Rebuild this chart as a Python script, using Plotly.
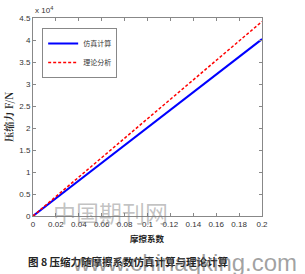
import plotly.graph_objects as go

mu = [0.0, 0.2]
sim_force = [0.0, 4.02]      # ×10^4 N
theory_force = [0.0, 4.42]   # ×10^4 N

x_ticks = [0, 0.02, 0.04, 0.06, 0.08, 0.1, 0.12, 0.14, 0.16, 0.18, 0.2]
x_labels = ["0", "0.02", "0.04", "0.06", "0.08", "0.1", "0.12", "0.14", "0.16", "0.18", "0.2"]
y_ticks = [0, 0.5, 1, 1.5, 2, 2.5, 3, 3.5, 4, 4.5]
y_labels = ["0", "0.5", "1", "1.5", "2", "2.5", "3", "3.5", "4", "4.5"]

fig = go.Figure()
fig.add_trace(go.Scatter(x=mu, y=sim_force, mode="lines", name="仿真计算",
                         line=dict(color="#0000ff", width=2)))
fig.add_trace(go.Scatter(x=mu, y=theory_force, mode="lines", name="理论分析",
                         line=dict(color="#ff0000", width=1.5, dash="3px,2px")))

axis_common = dict(showline=True, linecolor="#888888", linewidth=1, mirror="ticks",
                   ticks="inside", ticklen=3, tickcolor="#888888", showgrid=False,
                   zeroline=False, tickfont=dict(family="Liberation Sans, Arial", size=8, color="#333333"))

fig.update_layout(
    width=305, height=274,
    margin=dict(l=33, r=43, t=18, b=58),
    paper_bgcolor="white", plot_bgcolor="white",
    xaxis=dict(range=[0, 0.2], tickvals=x_ticks, ticktext=x_labels, **axis_common),
    yaxis=dict(range=[0, 4.5], tickvals=y_ticks, ticktext=y_labels, **axis_common),
    legend=dict(x=0.04, y=0.95, xanchor="left", yanchor="top",
                bgcolor="white", bordercolor="#888888", borderwidth=1,
                font=dict(family="Noto Sans CJK SC", size=7, color="#333333"),
                tracegroupgap=0, itemwidth=30),
    showlegend=True,
)

fig.add_annotation(xref="paper", yref="paper", x=0, y=1.0, xanchor="left", yanchor="bottom",
                   text="x 10<sup>4</sup>", showarrow=False, yshift=1,
                   font=dict(family="Liberation Sans, Arial", size=8, color="#333333"))
fig.add_annotation(xref="paper", yref="paper", x=-0.11, y=0.5, textangle=-90,
                   text="<b>压缩力 F/N</b>", showarrow=False, xanchor="center", yanchor="middle",
                   font=dict(family="Noto Serif CJK SC, Noto Sans CJK SC", size=10, color="#222222"))
fig.add_annotation(xref="paper", yref="paper", x=0.5, y=-0.111, xanchor="center", yanchor="middle",
                   text="<b>摩擦系数</b>", showarrow=False,
                   font=dict(family="Noto Sans CJK SC", size=8.5, color="#222222"))
fig.add_annotation(xref="paper", yref="paper", x=-0.03, y=-0.232, xanchor="left", yanchor="middle",
                   text="<b>图 8 压缩力随摩擦系数仿真计算与理论计算</b>", showarrow=False,
                   font=dict(family="Noto Sans CJK SC", size=10.5, color="#222222"))
# watermarks
fig.add_annotation(xref="paper", yref="paper", x=0.08, y=0.02, xanchor="left", yanchor="middle",
                   text="中国期刊网", showarrow=False,
                   font=dict(family="Noto Sans CJK SC", size=23, color="rgba(120,120,120,0.45)"))
fig.add_annotation(xref="paper", yref="paper", x=0.16, y=-0.235, xanchor="left", yanchor="middle",
                   text="www.chinaqking.com", showarrow=False,
                   font=dict(family="Liberation Sans, Arial", size=24, color="rgba(100,100,100,0.6)"))

fig.write_html("out.html")
